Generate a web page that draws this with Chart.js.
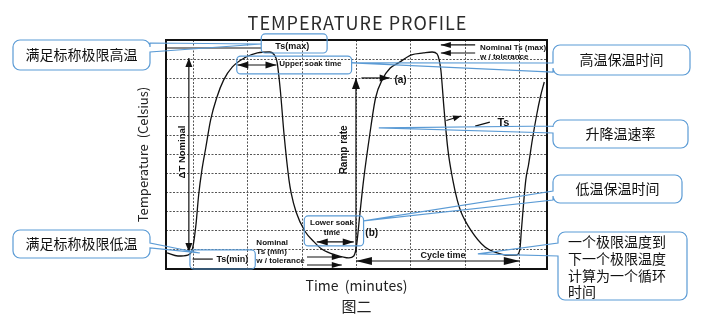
<!DOCTYPE html>
<html>
<head>
<meta charset="utf-8">
<script src="https://cdn.jsdelivr.net/npm/chart.js@4.4.1/dist/chart.umd.min.js"></script>
<style>
  html, body { margin: 0; padding: 0; background: #fff; }
  canvas { display: block; }
</style>
</head>
<body>
<canvas id="profileChart" width="702" height="326"></canvas>
<script>
// temperature cycle, one unit = one grid cell on each axis
const timeMin = [0.02, 0.22, 0.40, 0.49, 0.55, 0.60, 0.66, 0.73, 0.82, 0.93, 1.06, 1.22, 1.44, 1.68, 1.90, 1.99,
  2.04, 2.10, 2.17, 2.26, 2.30, 2.39, 2.55, 2.72, 2.86, 3.12, 3.36, 3.45, 3.50, 3.56, 3.63, 3.74, 3.85, 3.98,
  4.12, 4.27, 4.51, 4.73, 4.89, 4.98, 5.02, 5.05, 5.11, 5.18, 5.27, 5.35, 5.42, 5.60, 5.86, 6.04, 6.28, 6.44,
  6.50, 6.53, 6.61, 6.66, 6.73, 6.81, 6.88, 6.95];
const tempVal = [0.84, 0.68, 0.73, 1.10, 2.31, 3.88, 5.19, 6.34, 7.81, 8.96, 9.91, 10.59, 11.06, 11.32, 11.37, 11.22,
  10.85, 9.38, 7.02, 4.66, 3.98, 2.99, 1.99, 1.42, 1.05, 0.73, 0.58, 0.68, 1.21, 2.83, 4.66, 6.97, 8.96, 9.96,
  10.53, 10.80, 11.22, 11.32, 11.37, 11.27, 10.95, 10.43, 8.33, 6.24, 4.66, 3.62, 2.99, 2.04, 1.15, 0.89, 0.73, 0.73,
  1.00, 2.04, 4.66, 5.45, 6.76, 8.07, 9.04, 9.80];
const xGrid = [0.5, 1.5, 2.5, 3.5, 4.5, 5.5, 6.5];

const chartTitle = 'TEMPERATURE PROFILE';
const xTitle = 'Time  (minutes)';
const yTitle = 'Temperature  (Celsius)';
const figLabel = '图二';

const noteHigh = '满足标称极限高温';
const noteLow = '满足标称极限低温';
const noteUpperSoak = '高温保温时间';
const noteRamp = '升降温速率';
const noteLowerSoak = '低温保温时间';
const noteCycle = ['一个极限温度到', '下一个极限温度', '计算为一个循环', '时间'];

const blue = '#5b9bd5';
const cjk = '"Noto Sans CJK SC", "Noto Sans", sans-serif';
const arial = '"Liberation Sans", Arial, sans-serif';

function boxPath(ctx, l, t, r, b, rad, wedge) {
  ctx.beginPath();
  ctx.moveTo(l + rad, t);
  ctx.lineTo(r - rad, t);
  ctx.arcTo(r, t, r, t + rad, rad);
  if (wedge && wedge.side === 'right') {
    ctx.lineTo(r, wedge.y1);
    ctx.lineTo(wedge.tx, wedge.ty);
    ctx.lineTo(r, wedge.y2);
  }
  ctx.lineTo(r, b - rad);
  ctx.arcTo(r, b, r - rad, b, rad);
  ctx.lineTo(l + rad, b);
  ctx.arcTo(l, b, l, b - rad, rad);
  if (wedge && wedge.side === 'left') {
    ctx.lineTo(l, wedge.y2);
    ctx.lineTo(wedge.tx, wedge.ty);
    ctx.lineTo(l, wedge.y1);
  }
  ctx.lineTo(l, t + rad);
  ctx.arcTo(l, t, l + rad, t, rad);
  ctx.closePath();
}

function arrow(ctx, x1, y1, x2, y2, len, half, both) {
  const a = Math.atan2(y2 - y1, x2 - x1);
  ctx.beginPath();
  ctx.moveTo(x1, y1);
  ctx.lineTo(x2, y2);
  ctx.stroke();
  const head = (hx, hy, ang) => {
    ctx.beginPath();
    ctx.moveTo(hx, hy);
    ctx.lineTo(hx - len * Math.cos(ang) + half * Math.sin(ang), hy - len * Math.sin(ang) - half * Math.cos(ang));
    ctx.lineTo(hx - len * Math.cos(ang) - half * Math.sin(ang), hy - len * Math.sin(ang) + half * Math.cos(ang));
    ctx.closePath();
    ctx.fill();
  };
  head(x2, y2, a);
  if (both) head(x1, y1, a + Math.PI);
}

function text(ctx, str, x, y, font, align, rot) {
  ctx.save();
  ctx.font = font;
  ctx.textAlign = align || 'center';
  ctx.textBaseline = 'middle';
  ctx.translate(x, y);
  if (rot) ctx.rotate(rot);
  ctx.fillText(str, 0, 0);
  ctx.restore();
}

const profileNotes = {
  id: 'profileNotes',
  beforeDatasetsDraw(chart) {
    const {ctx, chartArea: ca} = chart;
    ctx.save();
    ctx.strokeStyle = '#111';
    ctx.lineWidth = 2;
    ctx.strokeRect(ca.left, ca.top, ca.right - ca.left, ca.bottom - ca.top);
    ctx.restore();
  },
  afterDatasetsDraw(chart) {
    const {ctx, chartArea: ca, scales} = chart;
    const X = v => scales.x.getPixelForValue(v);
    const Y = v => scales.y.getPixelForValue(v);
    ctx.save();
    ctx.fillStyle = '#111';
    ctx.strokeStyle = '#111';
    ctx.lineWidth = 1.2;

    // heading, spaced out above the frame
    ctx.save();
    ctx.fillStyle = '#2a2a2a';
    ctx.letterSpacing = '1px';
    text(ctx, chartTitle, (ca.left + ca.right) / 2 + 1, ca.top - 16.5, '18px ' + cjk);
    ctx.restore();

    // Ts(max) leader
    ctx.save();
    ctx.strokeStyle = '#8a8a8a';
    ctx.lineWidth = 2;
    ctx.beginPath();
    ctx.moveTo(X(0.02), Y(11.58));
    ctx.lineTo(X(1.75), Y(11.58));
    ctx.stroke();
    ctx.restore();
    text(ctx, 'Ts(max)', X(2.32), Y(11.64), 'bold 9px ' + arial);

    // upper soak
    arrow(ctx, X(1.31), Y(10.69), X(2.03), Y(10.69), 11, 3.5, true);
    text(ctx, 'Upper soak time', X(2.08), Y(10.74), 'bold 8px ' + arial, 'left');

    // nominal Ts(max) tolerance
    arrow(ctx, X(5.68), Y(11.74), X(5.05), Y(11.74), 10, 3, false);
    arrow(ctx, X(5.68), Y(11.32), X(5.05), Y(11.32), 10, 3, false);
    text(ctx, 'Nominal Ts (max)', X(5.77), Y(11.58), 'bold 8px ' + arial, 'left');
    text(ctx, 'w / tolerance', X(5.77), Y(11.11), 'bold 8px ' + arial, 'left');

    // ramp rate
    arrow(ctx, X(3.49), Y(0.84), X(3.49), Y(10.01), 11, 4, false);
    text(ctx, 'Ramp rate', X(3.27), Y(6.24), 'bold 10px ' + arial, 'center', -Math.PI / 2);
    arrow(ctx, X(3.59), Y(10.01), X(4.11), Y(10.01), 10, 3.5, false);
    text(ctx, '(a)', X(4.31), Y(9.91), 'bold 10px ' + arial);

    // delta T nominal
    arrow(ctx, X(0.42), Y(0.89), X(0.42), Y(11.06), 9, 3.5, true);
    text(ctx, '\u0394T Nominal', X(0.31), Y(6.13), 'bold 9.5px ' + arial, 'center', -Math.PI / 2);

    // Ts marker
    arrow(ctx, X(5.15), Y(7.78), X(5.42), Y(8.02), 8, 3, false);
    ctx.beginPath();
    ctx.moveTo(X(5.68), Y(7.49));
    ctx.lineTo(X(5.95), Y(7.70));
    ctx.stroke();
    text(ctx, 'Ts', X(6.09), Y(7.65), 'bold 11px ' + arial, 'left');

    // Ts(min)
    ctx.beginPath();
    ctx.moveTo(X(0.49), Y(0.52));
    ctx.lineTo(X(0.86), Y(0.52));
    ctx.stroke();
    text(ctx, 'Ts(min)', X(1.22), Y(0.52), 'bold 9px ' + arial);

    // nominal Ts(min) tolerance
    text(ctx, 'Nominal', X(1.66), Y(1.36), 'bold 8px ' + arial, 'left');
    text(ctx, 'Ts (min)', X(1.66), Y(0.89), 'bold 8px ' + arial, 'left');
    text(ctx, 'w / tolerance', X(1.66), Y(0.42), 'bold 8px ' + arial, 'left');
    arrow(ctx, X(2.59), Y(0.63), X(3.23), Y(0.63), 10, 3, false);
    arrow(ctx, X(2.59), Y(0.21), X(3.23), Y(0.21), 10, 3, false);

    // lower soak
    text(ctx, 'Lower soak', X(3.05), Y(2.41), 'bold 8px ' + arial);
    text(ctx, 'time', X(3.05), Y(1.89), 'bold 8px ' + arial);
    arrow(ctx, X(2.77), Y(1.42), X(3.45), Y(1.42), 11, 3.5, true);
    text(ctx, '(b)', X(3.78), Y(1.89), 'bold 10px ' + arial);

    // cycle time
    arrow(ctx, X(3.49), Y(0.42), X(6.50), Y(0.42), 16, 4, true);
    text(ctx, 'Cycle time', X(5.09), Y(0.70), 'bold 9px ' + arial);

    // blue outlines inside the plot
    ctx.strokeStyle = blue;
    ctx.lineWidth = 1.2;
    [[1.75, 2.96, 11.32, 12.32], [1.30, 3.41, 10.22, 11.16], [0.44, 1.64, 0, 1.0], [2.54, 3.63, 1.21, 2.78]]
      .forEach(([l, r, b, t]) => { boxPath(ctx, X(l), Y(t), X(r), Y(b), 4); ctx.stroke(); });

    // callouts beside the plot
    const L = ca.left, R = ca.right, T = ca.top;
    const callouts = [
      {l: L - 153, r: L - 16, t: T, b: T + 30, w: {side: 'right', y1: T + 3, y2: T + 12, tx: X(1.75), ty: Y(11.79)}, lines: [noteHigh]},
      {l: L - 153, r: L - 16, t: T + 190, b: T + 218, w: {side: 'right', y1: T + 203, y2: T + 208, tx: X(0.62), ty: Y(0.84)}, lines: [noteLow]},
      {l: R + 6, r: R + 143, t: T + 5, b: T + 35, w: {side: 'left', y1: T + 23, y2: T + 32, tx: X(3.41), ty: Y(10.80)}, lines: [noteUpperSoak]},
      {l: R + 6, r: R + 141, t: T + 80, b: T + 108, w: {side: 'left', y1: T + 86, y2: T + 93, tx: X(3.91), ty: Y(7.39)}, lines: [noteRamp]},
      {l: R + 6, r: R + 135, t: T + 135, b: T + 163, w: {side: 'left', y1: T + 151, y2: T + 160, tx: X(3.63), ty: Y(2.52)}, lines: [noteLowerSoak]},
      {l: R + 11, r: R + 140, t: T + 192, b: T + 260, w: {side: 'left', y1: T + 203, y2: T + 216, tx: X(5.73), ty: Y(0.79)}, lines: noteCycle, left: true}
    ];
    callouts.forEach(c => {
      boxPath(ctx, c.l, c.t, c.r, c.b, 7, c.w);
      ctx.stroke();
      ctx.fillStyle = '#111';
      if (c.left) {
        c.lines.forEach((s, i) => text(ctx, s, c.l + 10, c.t + 10 + i * 16.7, '14px ' + cjk, 'left'));
      } else {
        text(ctx, c.lines[0], (c.l + c.r) / 2, (c.t + c.b) / 2, '14px ' + cjk);
      }
    });
    ctx.restore();
  }
};

new Chart(document.getElementById('profileChart'), {
  type: 'line',
  data: {
    datasets: [{
      data: timeMin.map((t, i) => ({x: t, y: tempVal[i]})),
      borderColor: '#111',
      borderWidth: 1.3,
      pointRadius: 0,
      cubicInterpolationMode: 'monotone',
      fill: false
    }]
  },
  options: {
    responsive: false,
    animation: false,
    devicePixelRatio: 1,
    layout: { padding: { left: 135.2, right: 155, top: 40, bottom: 11 } },
    scales: {
      x: {
        type: 'linear', min: 0, max: 7,
        afterBuildTicks: axis => { axis.ticks = xGrid.map(v => ({value: v})); },
        ticks: { display: false },
        grid: { color: '#555', lineWidth: 1, drawTicks: false },
        border: { display: false, dash: [2, 1.5] },
        title: { display: true, text: xTitle, color: '#222', font: { family: cjk, size: 14 }, padding: { top: 8.6, bottom: 0 } }
      },
      y: {
        type: 'linear', min: 0, max: 12,
        ticks: { display: false, stepSize: 1 },
        grid: { color: '#555', lineWidth: 1, drawTicks: false },
        border: { display: false, dash: [2, 1.5] },
        title: { display: true, text: yTitle, color: '#222', font: { family: cjk, size: 13 }, padding: { top: 0, bottom: 15.2 } }
      }
    },
    plugins: {
      legend: { display: false },
      tooltip: { enabled: false },
      subtitle: {
        display: true, text: figLabel, position: 'bottom', fullSize: false, color: '#222',
        font: { family: cjk, size: 15 },
        padding: { top: 2.6, bottom: 0 }
      }
    }
  },
  plugins: [profileNotes]
});
</script>
</body>
</html>
